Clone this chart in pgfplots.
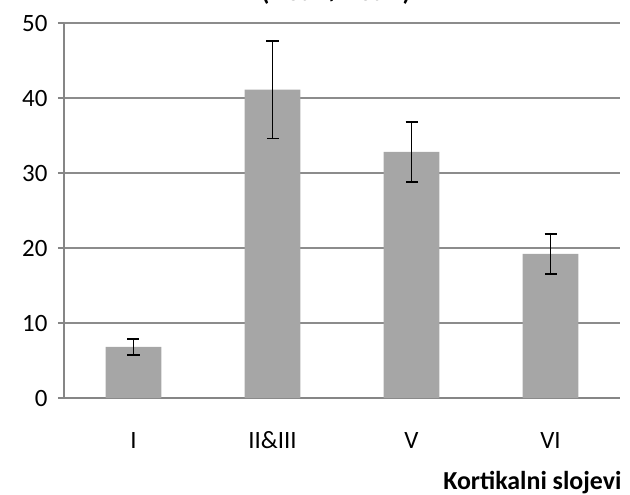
\documentclass[border=0pt]{standalone}
\usepackage{pgfplots}
\pgfplotsset{compat=1.18}
\usepackage{fontspec}
\setmainfont{Carlito}
\definecolor{barg}{HTML}{A6A6A6}
\definecolor{gridg}{HTML}{8C8C8C}
\definecolor{axg}{HTML}{868686}
\begin{document}
\begin{tikzpicture}[x=1bp,y=1bp]
\begin{axis}[
  at={(0,0)}, anchor=south west,
  scale only axis, width=556bp, height=375bp,
  xmin=-0.5, xmax=3.5, ymin=0, ymax=50,
  axis x line=bottom, axis y line=left,
  axis line style={axg, line width=1.2pt, -},
  xtick={0,1,2,3}, xticklabels={I,II\&III,V,VI},
  x tick style={draw=none},
  extra x ticks={0.5,1.5,2.5}, extra x tick labels={},
  extra x tick style={tick style={draw=axg, line width=1.2pt}, major tick length=7bp, xtick align=outside, grid=none},
  ytick={0,10,...,50},
  y tick style={draw=axg, line width=1.2pt},
  tick align=outside, major tick length=6bp,
  ymajorgrids, grid style={gridg, line width=1.2pt},
  tick label style={font=\fontsize{25}{28}\selectfont},
  /pgf/number format/assume math mode=true,
  xticklabel style={anchor=base, yshift=-44bp},
  yticklabel style={anchor=east, xshift=-7bp, yshift=-1bp},
  clip=false,
]
\addplot[ybar, bar width=0.4, fill=barg, draw=none,
  error bars/.cd, y dir=both, y explicit,
  error bar style={black, line width=1.7bp}, error mark options={rotate=90, mark size=6bp, line width=1.7bp}]
  coordinates {(0,6.8) +- (0,1.1) (1,41.1) +- (0,6.5) (2,32.8) +- (0,4.0) (3,19.2) +- (0,2.7)};
\end{axis}
\node[anchor=base, font=\fontsize{26}{30}\selectfont\bfseries] at (272bp,397bp) {(NeuN/NeuN)};
\node[anchor=base east, font=\fontsize{26}{30}\selectfont\bfseries] at (561bp,-91bp) {Kortikalni slojevi};
\pgfresetboundingbox
\path[use as bounding box] (-64bp,-97bp) rectangle (566bp,398bp);
\end{tikzpicture}
\end{document}
